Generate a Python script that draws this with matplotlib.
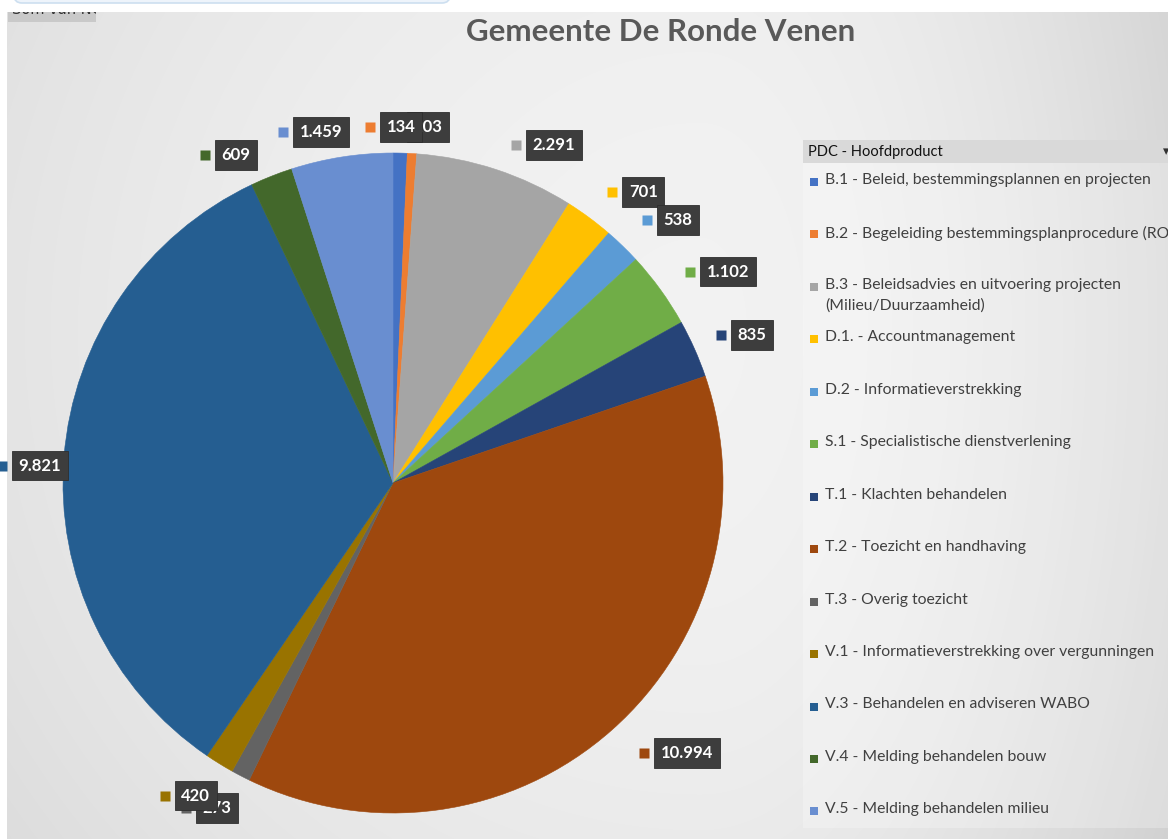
import numpy as np
import matplotlib
matplotlib.use('Agg')
import matplotlib.pyplot as plt
from matplotlib.patches import Rectangle, FancyBboxPatch

plt.rcParams['font.family'] = ['Lato', 'DejaVu Sans']

title = 'Gemeente De Ronde Venen'
legend_title = 'PDC - Hoofdproduct'
categories = [
    'B.1 - Beleid, bestemmingsplannen en projecten',
    'B.2 - Begeleiding bestemmingsplanprocedure (RO)',
    'B.3 - Beleidsadvies en uitvoering projecten\n(Milieu/Duurzaamheid)',
    'D.1. - Accountmanagement',
    'D.2 - Informatieverstrekking',
    'S.1 - Specialistische dienstverlening',
    'T.1 - Klachten behandelen',
    'T.2 - Toezicht en handhaving',
    'T.3 - Overig toezicht',
    'V.1 - Informatieverstrekking over vergunningen',
    'V.3 - Behandelen en adviseren WABO',
    'V.4 - Melding behandelen bouw',
    'V.5 - Melding behandelen milieu',
]
values = [203, 134, 2291, 701, 538, 1102, 835, 10994, 273, 420, 9821, 609, 1459]
colors = ['#4472C4', '#ED7D31', '#A5A5A5', '#FFC000', '#5B9BD5', '#70AD47',
          '#264478', '#9E480E', '#636363', '#997300', '#255E91', '#43682B',
          '#698ED0']

# label placement: (angle shift from slice middle in degrees, radius factor)
label_nudge = [(4.4, 1.084), (-2.0, 1.079), (7.3, 1.134), (4.2, 1.163),
               (3.2, 1.175), (3.6, 1.20), (1.6, 1.177), (-5.9, 1.21),
               (0.9, 1.12), (0.5, 1.12), (-1.7, 1.071), (-4.0, 1.102),
               (-2.7, 1.086)]

W, H = 1168, 839
fig = plt.figure(figsize=(W / 100, H / 100), dpi=100)

# background (pixel coordinates)
bg = fig.add_axes([0, 0, 1, 1], zorder=-5)
bg.set_xlim(0, W); bg.set_ylim(H, 0); bg.axis('off')
yy, xx = np.mgrid[0:H, 0:W]
cx, cy = 700, 330
dx = np.where(xx > cx, (xx - cx) * 2.0, (xx - cx))
d = np.sqrt(dx ** 2 + (yy - cy) ** 2) / 983.0
g = np.clip(0.95 - 0.11 * d ** 2, 0.82, 1)
bg.imshow(np.dstack([g, g, g]), extent=(0, W, H, 0), aspect='auto', zorder=0)
bg.add_patch(Rectangle((0, 0), W, 12, fc='white', ec='none', zorder=1))
bg.add_patch(Rectangle((0, 0), 7, H, fc='white', ec='none', zorder=1))
bg.add_patch(FancyBboxPatch((14, -30), 436, 33, boxstyle='round,pad=0,rounding_size=8',
                            fc='#eef4fb', ec='#cddff0', lw=1.2, zorder=2))
btn = Rectangle((8, 12), 88, 10, fc='#c9c9c9', ec='none', zorder=2)
bg.add_patch(btn)
t = bg.text(12, 16.5, 'Som van NC', fontsize=10.5, color='#333333', va='bottom',
            family='DejaVu Sans', zorder=3)
t.set_clip_on(True)
t.set_clip_path(btn)

# legend panel
bg.add_patch(Rectangle((803, 140), W - 803, 688, fc='white', alpha=0.25, ec='none', zorder=1))
bg.add_patch(Rectangle((803, 140), W - 803, 23, fc='#d9d9d9', ec='none', zorder=2))
bg.text(808, 152, legend_title, fontsize=10.5, color='#111111', va='center', zorder=3)
bg.text(1166, 152, '▾', fontsize=9, color='#333333', va='center', ha='center',
        family='DejaVu Sans', zorder=3)
for i, (name, c) in enumerate(zip(categories, colors)):
    y = 182 + i * 52.45
    bg.add_patch(Rectangle((810, y - 4), 8, 8, fc=c, ec='none', zorder=3))
    bg.text(825, y - 9, name, fontsize=11.3, color='#404040', va='top',
            linespacing=1.6, zorder=3)

fig.text(661 / W, 1 - 32 / H, title, fontsize=22.5, fontweight='bold',
         color='#595959', ha='center', va='center')

# pie
R = 330
L = 1.3
side = 2 * L * R
ax = fig.add_axes([(393 - side / 2) / W, (H - 483 - side / 2) / H, side / W, side / H])
wedges, _ = ax.pie(values, colors=colors, startangle=90, counterclock=False,
                   radius=1, wedgeprops=dict(linewidth=0))
for w, c in zip(wedges, colors):
    w.set_edgecolor(c)
    w.set_linewidth(0.4)
ax.set_xlim(-L, L); ax.set_ylim(-L, L); ax.set_aspect('equal'); ax.axis('off')

total = float(sum(values))
cum = np.cumsum([0] + values)
texts = []
for i, v in enumerate(values):
    mid = (cum[i] + cum[i + 1]) / 2 / total * 360
    dang, rf = label_nudge[i]
    a = np.radians(mid + dang)
    x, y = rf * np.sin(a), rf * np.cos(a)
    lab = f'{v:,}'.replace(',', '.')
    tx = ax.text(x, y, lab, ha='center', va='center', color='white', fontsize=12,
                 fontweight='bold', zorder=10 + 2 * i, clip_on=False,
                 bbox=dict(boxstyle='square,pad=0.4', fc='#3d3d3d', ec='#2e2e2e', lw=0.6))
    texts.append(tx)

fig.canvas.draw()
r = fig.canvas.get_renderer()
inv = ax.transData.inverted()
for i, tx in enumerate(texts):
    bb = tx.get_bbox_patch().get_window_extent(r)
    mx, my = inv.transform((bb.x0 - 10, (bb.y0 + bb.y1) / 2))
    ax.plot(mx, my, marker='s', ms=7, color=colors[i], mec='none',
            zorder=9 + 2 * i, clip_on=False)

fig.savefig('out.png', dpi=100)
